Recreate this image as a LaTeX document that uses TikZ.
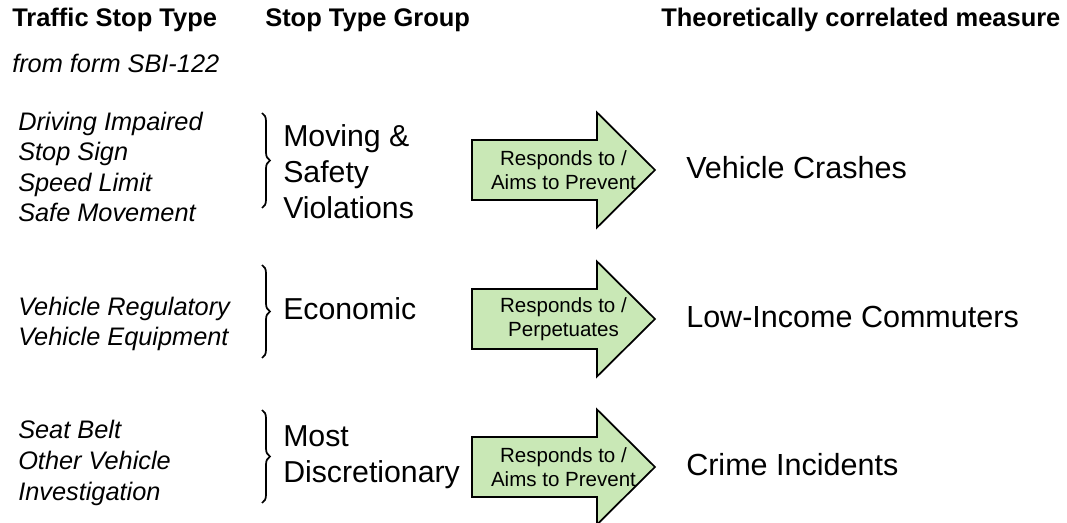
\documentclass[tikz,border=0pt]{standalone}
\usepackage{fontspec}
\setmainfont{Liberation Sans}
\usetikzlibrary{decorations.pathreplacing}

\definecolor{arrowgreen}{RGB}{201,232,182}

\tikzset{
    colhead/.style={font=\bfseries\fontsize{19.1}{22}\selectfont, anchor=base west, inner sep=0pt},
    stoptype/.style={font=\itshape\fontsize{19}{22.9}\selectfont, anchor=base west, inner sep=0pt, align=left},
    stopgroup/.style={font=\fontsize{22.7}{27}\selectfont, anchor=base west, inner sep=0pt, align=left},
    measure/.style={font=\fontsize{22.9}{27}\selectfont, anchor=base west, inner sep=0pt},
    arrowtext/.style={font=\fontsize{15.4}{18}\selectfont, align=center, inner sep=0pt},
    bigarrow/.style={draw=black, line width=1.3pt, fill=arrowgreen, line join=miter},
    grpbrace/.style={decorate, decoration={brace, amplitude=6pt}, line width=1.3pt}
}

\begin{document}
\begin{tikzpicture}[x=0.75pt, y=-0.75pt]
    \useasboundingbox (0,0) rectangle (1067,523);
    % column headers
    \node[colhead] (hType) at (12,27) {Traffic Stop Type};
    \node[colhead] (hGroup) at (265,27) {Stop Type Group};
    \node[colhead] (hMeasure) at (661,27) {Theoretically correlated measure};
    \node[stoptype] (hForm) at (12,73) {from form SBI-122};
    % stop types (base = last line)
    \node[stoptype] (types1) at (18,222) {Driving Impaired\\Stop Sign\\Speed Limit\\Safe Movement};
    \node[stoptype] (types2) at (18,346) {Vehicle Regulatory\\Vehicle Equipment};
    \node[stoptype] (types3) at (18,500) {Seat Belt\\Other Vehicle\\Investigation};
    % braces
    \draw[grpbrace] (262,113) -- (262,208);
    \draw[grpbrace] (262,265) -- (262,358);
    \draw[grpbrace] (262,410) -- (262,503);
    % groups
    \node[stopgroup] (group1) at (283,219) {Moving \&\\Safety\\Violations};
    \node[stopgroup] (group2) at (283,320) {Economic};
    \node[stopgroup] (group3) at (283,483) {Most\\Discretionary};
    % arrows
    \coordinate (a1) at (563.5,170);
    \coordinate (a2) at (563.5,319);
    \coordinate (a3) at (563.5,467);
    \draw[bigarrow] (a1) ++(-91.5,-30) -- ++(125,0) -- ++(0,-27.5) -- ++(58,57.5) -- ++(-58,57.5) -- ++(0,-27.5) -- ++(-125,0) -- cycle;
    \draw[bigarrow] (a2) ++(-91.5,-30) -- ++(125,0) -- ++(0,-27.5) -- ++(58,57.5) -- ++(-58,57.5) -- ++(0,-27.5) -- ++(-125,0) -- cycle;
    \draw[bigarrow] (a3) ++(-91.5,-30) -- ++(125,0) -- ++(0,-27.5) -- ++(58,57.5) -- ++(-58,57.5) -- ++(0,-27.5) -- ++(-125,0) -- cycle;
    \node[arrowtext] (label1) at (a1) {Responds to /\\Aims to Prevent};
    \node[arrowtext] (label2) at (a2) {Responds to /\\Perpetuates};
    \node[arrowtext] (label3) at (a3) {Responds to /\\Aims to Prevent};
    % measures
    \node[measure] (crashes) at (686,179) {Vehicle Crashes};
    \node[measure] (commuters) at (686,328) {Low-Income Commuters};
    \node[measure] (crime) at (686,476) {Crime Incidents};
\end{tikzpicture}
\end{document}
